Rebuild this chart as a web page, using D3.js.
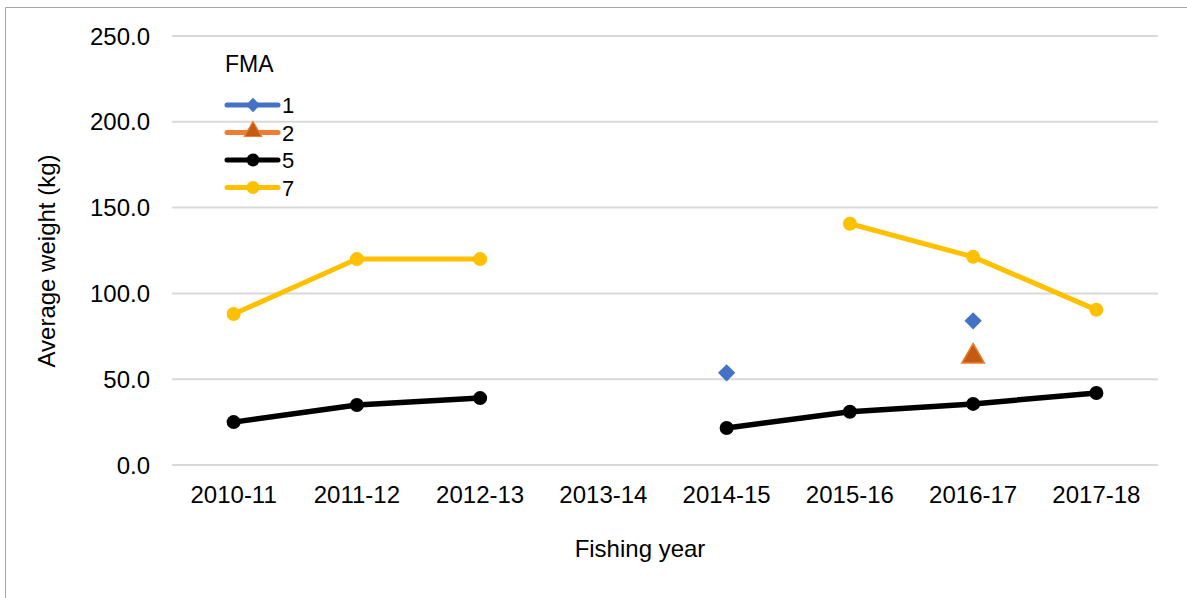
<!DOCTYPE html>
<html>
<head>
<meta charset="utf-8">
<script src="https://cdn.jsdelivr.net/npm/d3@7"></script>
<style>
  body { margin: 0; background: #fff; }
  text { font-family: "Liberation Sans", Arial, sans-serif; fill: #000; }
</style>
</head>
<body>
<svg id="chart"></svg>
<script>
const years = ["2010-11", "2011-12", "2012-13", "2013-14", "2014-15", "2015-16", "2016-17", "2017-18"];
const yTicks = [0, 50, 100, 150, 200, 250];
// null = no value for that year
const fma1 = [null, null, null, null, 53.7, null, 84, null];
const fma2 = [null, null, null, null, null, null, 65, null];
const fma5 = [25, 35, 39, null, 21.6, 31, 35.6, 42];
const fma7 = [88, 120, 120, null, null, 140.6, 121.3, 90.4];

const width = 1187,
  height = 598;
const margin = { top: 36, left: 172, right: 29, bottom: 133 };

const svg = d3.select("#chart").attr("width", width).attr("height", height);

// outer frame (top and left edges visible)
svg.append("path")
  .attr("d", `M5.5,${height} V7.5 H${width}`)
  .attr("fill", "none")
  .attr("stroke", "#a6a6a6")
  .attr("stroke-width", 1);

const x = d3.scaleBand()
  .domain(years)
  .range([margin.left, width - margin.right]);

const y = d3.scaleLinear()
  .domain([0, 250])
  .range([height - margin.bottom, margin.top]);

// grid
svg.append("g")
  .selectAll("line")
  .data(yTicks)
  .join("line")
  .attr("x1", margin.left)
  .attr("x2", width - margin.right)
  .attr("y1", (d) => y(d))
  .attr("y2", (d) => y(d))
  .attr("stroke", "#d9d9d9")
  .attr("stroke-width", 2);

// y axis labels
const yAxis = svg.append("g")
  .attr("transform", `translate(${margin.left}, 0)`)
  .call(d3.axisLeft(y).tickValues(yTicks).tickFormat(d3.format(".1f")).tickSize(0).tickPadding(22));
yAxis.select(".domain").remove();
yAxis.selectAll("text").style("font-size", "24px").attr("dy", "0.34em");

// x axis labels
const xAxis = svg.append("g")
  .attr("transform", `translate(0, ${y(0)})`)
  .call(d3.axisBottom(x).tickSize(0).tickPadding(21));
xAxis.select(".domain").remove();
xAxis.selectAll("text").style("font-size", "24px");

// axis titles
svg.append("text")
  .attr("transform", `translate(55, 261) rotate(-90)`)
  .attr("text-anchor", "middle")
  .style("font-size", "24px")
  .text("Average weight (kg)");

svg.append("text")
  .attr("x", 640)
  .attr("y", 557)
  .attr("text-anchor", "middle")
  .style("font-size", "24px")
  .text("Fishing year");

const cx = (i) => x(years[i]) + x.bandwidth() / 2;

const line = d3.line()
  .defined((d) => d != null)
  .x((d, i) => cx(i))
  .y((d) => y(d));

function drawSeries(values, color, width, r) {
  svg.append("path")
    .datum(values)
    .attr("d", line)
    .attr("fill", "none")
    .attr("stroke", color)
    .attr("stroke-width", width)
    .attr("stroke-linejoin", "round");
  svg.append("g")
    .selectAll("circle")
    .data(values.map((v, i) => [v, i]).filter((d) => d[0] != null))
    .join("circle")
    .attr("cx", (d) => cx(d[1]))
    .attr("cy", (d) => y(d[0]))
    .attr("r", r)
    .attr("fill", color);
}

drawSeries(fma7, "#ffc000", 5, 7);
drawSeries(fma5, "#000000", 5.5, 7);

const diamond = d3.symbol().type(d3.symbolDiamond2).size(190);
const triangle = d3.symbol().type(d3.symbolTriangle).size(220);

svg.append("g")
  .selectAll("path")
  .data(fma1.map((v, i) => [v, i]).filter((d) => d[0] != null))
  .join("path")
  .attr("d", diamond)
  .attr("transform", (d) => `translate(${cx(d[1])}, ${y(d[0])})`)
  .attr("fill", "#4472c4");

svg.append("g")
  .selectAll("path")
  .data(fma2.map((v, i) => [v, i]).filter((d) => d[0] != null))
  .join("path")
  .attr("d", triangle)
  .attr("transform", (d) => `translate(${cx(d[1])}, ${y(d[0]) + 3})`)
  .attr("fill", "#c55a11")
  .attr("stroke", "#ed7d31")
  .attr("stroke-width", 1.5);

// legend
const legend = svg.append("g").attr("transform", "translate(225, 0)");
legend.append("text")
  .attr("x", 0)
  .attr("y", 72)
  .style("font-size", "23px")
  .text("FMA");

const legendItems = [
  { name: "1", color: "#4472c4", mark: "diamond" },
  { name: "2", color: "#ed7d31", mark: "triangle" },
  { name: "5", color: "#000000", mark: "circle" },
  { name: "7", color: "#ffc000", mark: "circle" },
];

legendItems.forEach((d, i) => {
  const ly = 105 + i * 27.5;
  const g = legend.append("g").attr("transform", `translate(0, ${ly})`);
  g.append("line")
    .attr("x1", 2).attr("x2", 53)
    .attr("stroke", d.color)
    .attr("stroke-width", 5)
    .attr("stroke-linecap", "round");
  if (d.mark == "diamond") {
    g.append("path").attr("d", d3.symbol().type(d3.symbolDiamond2).size(130))
      .attr("transform", "translate(28, 0)").attr("fill", d.color);
  } else if (d.mark == "triangle") {
    g.append("path").attr("d", d3.symbol().type(d3.symbolTriangle).size(130))
      .attr("transform", "translate(28, -1)").attr("fill", "#c55a11")
      .attr("stroke", "#ed7d31").attr("stroke-width", 1.2);
  } else {
    g.append("circle").attr("cx", 28).attr("r", 6.5).attr("fill", d.color);
  }
  g.append("text")
    .attr("x", 57)
    .attr("y", 8)
    .style("font-size", "22px")
    .text(d.name);
});
</script>
</body>
</html>
